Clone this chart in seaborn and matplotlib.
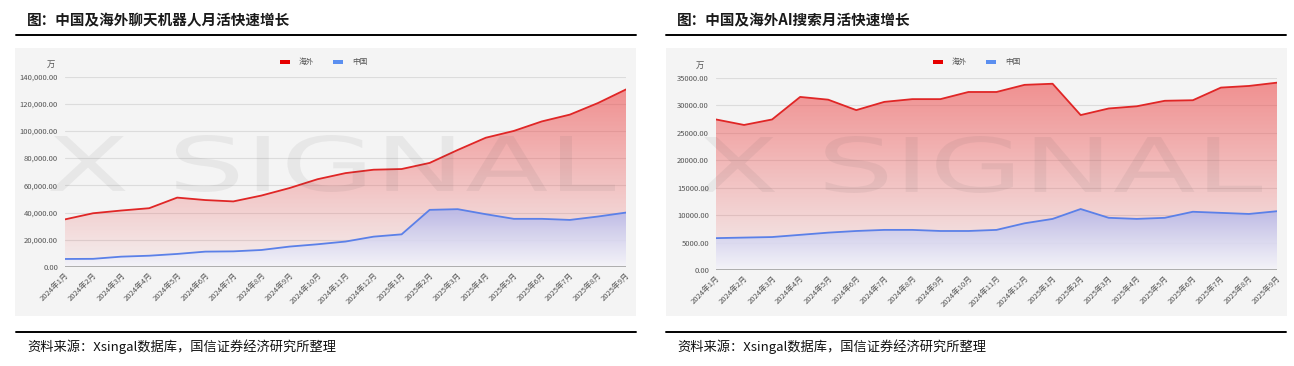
import numpy as np
import matplotlib
matplotlib.use("Agg")
import matplotlib.pyplot as plt
import seaborn as sns
from matplotlib.patches import Rectangle, PathPatch
from matplotlib.lines import Line2D
from matplotlib.textpath import TextPath
from matplotlib.font_manager import FontProperties
from matplotlib.transforms import Affine2D
from matplotlib.ticker import FuncFormatter

sns.set_style("white")
plt.rcParams['font.family'] = ['Noto Sans CJK SC', 'DejaVu Sans']

# months 2024-1 .. 2025-9
months = [f"2024年{m}月" for m in range(1, 13)] + [f"2025年{m}月" for m in range(1, 10)]

# chatbot MAU (万)
chat_overseas = [35000, 39500, 41500, 43200, 51000, 49200, 48200, 52500, 58000, 64500,
                 69000, 71500, 72000, 76500, 86000, 95000, 100000, 107000, 112000, 120500, 130500]
chat_china = [5900, 6000, 7600, 8300, 9600, 11300, 11500, 12500, 15000, 16700,
              18700, 22300, 24000, 42000, 42500, 38800, 35400, 35400, 34600, 37100, 40000]

# AI search MAU (万)
search_overseas = [27400, 26400, 27400, 31500, 31000, 29100, 30600, 31100, 31100, 32400,
                   32400, 33700, 33900, 28200, 29400, 29800, 30800, 30900, 33200, 33500, 34100]
search_china = [5800, 5900, 6000, 6400, 6800, 7100, 7300, 7300, 7100, 7100,
                7300, 8500, 9300, 11100, 9500, 9300, 9500, 10600, 10400, 10200, 10700]

titles = ["图：中国及海外聊天机器人月活快速增长", "图：中国及海外AI搜索月活快速增长"]
source = "资料来源：Xsingal数据库，国信证券经济研究所整理"
series_names = ["海外", "中国"]

W, H = 1294, 366
fig = plt.figure(figsize=(W / 100, H / 100), dpi=100)


def fx(px):
    return px / W


def fy(py):
    return 1 - py / H


RED = "#e02626"
BLUE = "#5b80e8"


def grad_fill(ax, x, y, top, bottom):
    poly = ax.fill_between(x, y, 0, color="none", lw=0)
    path = poly.get_paths()[0]
    n = 256
    t = np.linspace(0, 1, n)[:, None]
    top = np.array(top)
    bottom = np.array(bottom)
    img = (top[None, :] * (1 - t) + bottom[None, :] * t)[:, None, :]
    im = ax.imshow(img, extent=[x[0], x[-1], 0, max(y)], aspect="auto",
                   origin="upper", interpolation="bilinear", zorder=2)
    clip = PathPatch(path, transform=ax.transData, facecolor="none", edgecolor="none")
    ax.add_patch(clip)
    im.set_clip_path(clip)


def watermark(x0, y0, x1, y1):
    tp = TextPath((0, 0), "X SIGNAL", size=1, prop=FontProperties(family="DejaVu Sans"))
    bb = tp.get_extents()
    tr = (Affine2D().translate(-bb.x0, -bb.y0)
          .scale((fx(x1) - fx(x0)) / bb.width, (fy(y0) - fy(y1)) / bb.height)
          .translate(fx(x0), fy(y1)) + fig.transFigure)
    fig.add_artist(PathPatch(tp, transform=tr, facecolor=(0.3, 0.3, 0.3, 0.075),
                             edgecolor="none", zorder=5))


panels = [
    dict(box=(15, 636), rule=(16, 636), ax=(65, 626, 76.5, 267), ymax=140000, step=20000,
         fmt=lambda v, p: f"{v:,.2f}", wan=(55, 64), legend=280,
         data=(chat_overseas, chat_china), wm=(50, 135, 615, 192)),
    dict(box=(666, 1287), rule=(666, 1286), ax=(716, 1277, 77.7, 270), ymax=35000, step=5000,
         fmt=lambda v, p: f"{v:.2f}", wan=(704, 65), legend=933,
         data=(search_overseas, search_china), wm=(700, 136, 1262, 193)),
]

x = np.arange(len(months))

for i, pnl in enumerate(panels):
    b0, b1 = pnl["box"]
    fig.patches.append(Rectangle((fx(b0), fy(316)), fx(b1) - fx(b0), fy(48) - fy(316),
                                 transform=fig.transFigure, facecolor="#f4f4f4",
                                 edgecolor="none", zorder=-5))
    r0, r1 = pnl["rule"]
    for yy in (35, 332):
        fig.add_artist(Line2D([fx(r0), fx(r1)], [fy(yy), fy(yy)], color="black", lw=1.4))
    fig.text(fx(r0 + 11), fy(20), titles[i], fontsize=10.5, color="#1a1a1a",
             va="center", ha="left", fontweight="bold")
    fig.text(fx(r0 + 11), fy(347), source, fontsize=9.5, color="#111111",
             va="center", ha="left")

    a0, a1, t0, t1 = pnl["ax"]
    ax = fig.add_axes([fx(a0), fy(t1), fx(a1) - fx(a0), fy(t0) - fy(t1)])
    ax.set_facecolor("none")
    ov, cn = pnl["data"]
    grad_fill(ax, x, ov, (0.93, 0.28, 0.28, 0.58), (0.93, 0.28, 0.28, 0.03))
    grad_fill(ax, x, cn, (0.72, 0.72, 0.91, 0.92), (0.96, 0.96, 0.98, 0.85))
    sns.lineplot(x=x, y=ov, ax=ax, color=RED, lw=1.3, zorder=4)
    sns.lineplot(x=x, y=cn, ax=ax, color=BLUE, lw=1.3, zorder=4)

    ax.set_xlim(0, len(months) - 1)
    ax.set_ylim(0, pnl["ymax"])
    ax.set_yticks(np.arange(0, pnl["ymax"] + 1, pnl["step"]))
    ax.yaxis.set_major_formatter(FuncFormatter(pnl["fmt"]))
    ax.set_xticks(x)
    ax.set_xticklabels(months, rotation=45, ha="right", rotation_mode="anchor")
    ax.tick_params(axis="both", length=0, labelsize=5.5, labelcolor="#555555")
    ax.tick_params(axis="y", pad=5)
    ax.tick_params(axis="x", pad=3)
    ax.yaxis.grid(True, color="#dcdcdc", lw=0.8)
    ax.set_axisbelow(True)
    ax.axhline(0, color="#a8a8a8", lw=1.3, zorder=5)
    for s in ax.spines.values():
        s.set_visible(False)

    wx, wy = pnl["wan"]
    fig.text(fx(wx), fy(wy), "万", fontsize=6, color="#555555", ha="right", va="center")

    lx = pnl["legend"]
    for k, (name, col) in enumerate(zip(series_names, ["#e60000", "#5b8ff0"])):
        off = lx + k * 53
        fig.patches.append(Rectangle((fx(off), fy(64)), fx(10), fy(60) - fy(64),
                                     transform=fig.transFigure, facecolor=col,
                                     edgecolor="none", zorder=3))
        fig.text(fx(off + 19), fy(62), name, fontsize=5.5, color="#555555",
                 ha="left", va="center")

    watermark(*pnl["wm"])

fig.savefig("out.png", dpi=100, facecolor="white")
